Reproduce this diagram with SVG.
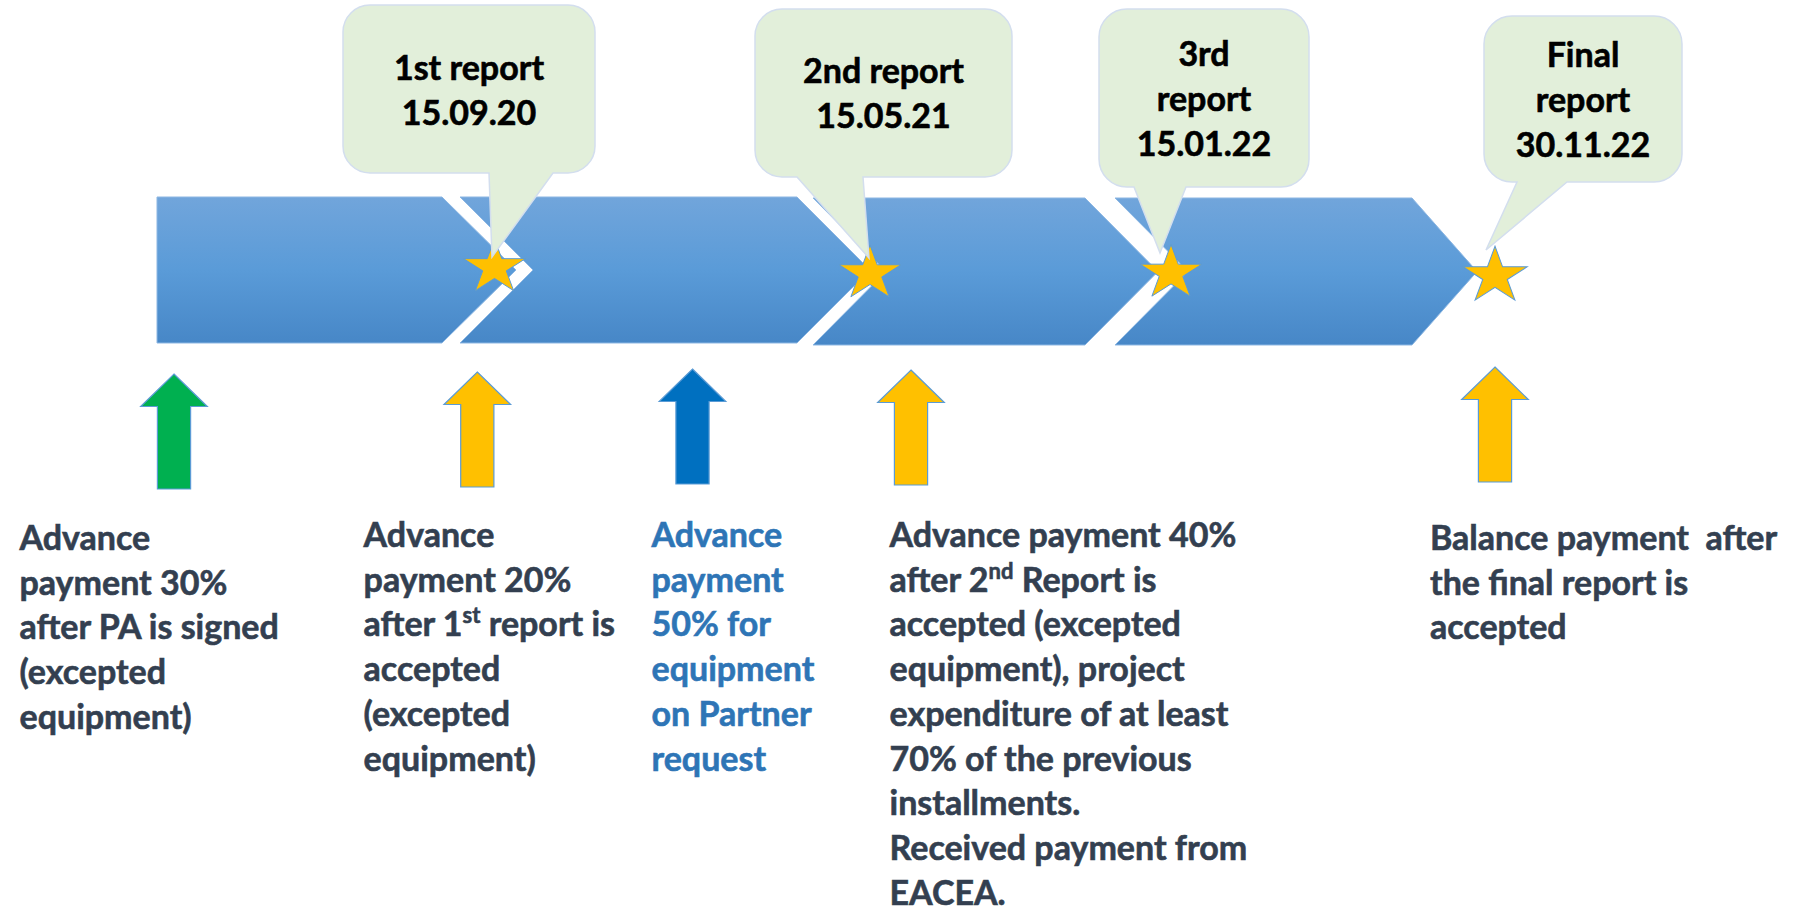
<svg xmlns="http://www.w3.org/2000/svg" width="1793" height="909" viewBox="0 0 1793 909">
<style>
.bar{fill:url(#barGrad);stroke:#8DB7E3;stroke-width:1}
.callout{fill:#E2EFDA;stroke:#D3DEEE;stroke-width:1.5}
.ctext{font-family:Lato,"Open Sans",sans-serif;font-weight:700;font-size:34px;fill:#000000;stroke:#000000;stroke-width:0.6;text-anchor:middle}
.btext{font-family:Lato,"Open Sans",sans-serif;font-weight:700;font-size:34px;fill:#333F50;stroke:#333F50;stroke-width:0.6}
.blue{fill:#2E75B6;stroke:#2E75B6}
.star{fill:#FFC000;stroke:#5B9BD5;stroke-width:1}
.arrow{stroke:#5B9BD5;stroke-width:1.2}
</style>
<defs>
<linearGradient id="barGrad" x1="0" y1="0" x2="0" y2="1">
<stop offset="0" stop-color="#71A5DB"/>
<stop offset="0.5" stop-color="#5A9BD8"/>
<stop offset="1" stop-color="#4787C7"/>
</linearGradient>
<polygon id="starShape" points="0,-28.6 7.3,-8.84 30.9,-8.84 11.8,3.37 19.1,23.14 0,10.93 -19.1,23.14 -11.8,3.37 -30.9,-8.84 -7.3,-8.84"/>
<path id="upArrow" d="M0,0 L33.3,32.5 L16.6,32.5 L16.6,115 L-16.6,115 L-16.6,32.5 L-33.3,32.5 Z"/>
</defs>
<rect width="1793" height="909" fill="#FFFFFF"/>

<g id="timeline">
<polygon id="seg1" class="bar" points="157,197 442,197 516,270 442,343 157,343"/>
<polygon id="seg2" class="bar" points="460,197 797,197 870,270 797,343 460,343 533,270"/>
<polygon id="seg3" class="bar" points="813,198 1085,198 1158,271.5 1085,345 813,345 886,271.5"/>
<polygon id="seg4" class="bar" points="1115,198 1412,198 1477,271.5 1412,345 1115,345 1188,271.5"/>
</g>

<g id="stars">
<use href="#starShape" class="star" transform="translate(494.5,267.5)"/>
<use href="#starShape" class="star" transform="translate(870,273.6)"/>
<use href="#starShape" class="star" transform="translate(1171,273)"/>
<use href="#starShape" class="star" transform="translate(1495,276) scale(1.04,1.04)"/>
</g>

<g id="callout1">
<path class="callout" d="M370,5 H568 A27,27 0 0 1 595,32 V146 A27,27 0 0 1 568,173 H553 L492,257 L489,173 H370 A27,27 0 0 1 343,146 V32 A27,27 0 0 1 370,5 Z"/>
<text class="ctext" x="469" y="80">1st report</text>
<text class="ctext" x="469" y="125">15.09.20</text>
</g>

<g id="callout2">
<path class="callout" d="M782,9 H985 A27,27 0 0 1 1012,36 V150 A27,27 0 0 1 985,177 H863 L869,258 L797,177 H782 A27,27 0 0 1 755,150 V36 A27,27 0 0 1 782,9 Z"/>
<text class="ctext" x="883.5" y="83">2nd report</text>
<text class="ctext" x="883.5" y="128">15.05.21</text>
</g>

<g id="callout3">
<path class="callout" d="M1127,9 H1281 A28,28 0 0 1 1309,37 V159 A28,28 0 0 1 1281,187 H1186 L1160,253 L1134,187 H1127 A28,28 0 0 1 1099,159 V37 A28,28 0 0 1 1127,9 Z"/>
<text class="ctext" x="1204" y="66">3rd</text>
<text class="ctext" x="1204" y="111">report</text>
<text class="ctext" x="1204" y="156">15.01.22</text>
</g>

<g id="callout4">
<path class="callout" d="M1512,16 H1654 A28,28 0 0 1 1682,44 V154 A28,28 0 0 1 1654,182 H1567 L1486,250 L1517,182 H1512 A28,28 0 0 1 1484,154 V44 A28,28 0 0 1 1512,16 Z"/>
<text class="ctext" x="1583" y="67">Final</text>
<text class="ctext" x="1583" y="112">report</text>
<text class="ctext" x="1583" y="157">30.11.22</text>
</g>

<g id="arrows">
<use id="arrow1" href="#upArrow" class="arrow" fill="#00B050" transform="translate(174,374)"/>
<use id="arrow2" href="#upArrow" class="arrow" fill="#FFC000" transform="translate(477.3,372)"/>
<use id="arrow3" href="#upArrow" class="arrow" fill="#0070C0" stroke="#0070C0" transform="translate(692.5,369)"/>
<use id="arrow4" href="#upArrow" class="arrow" fill="#FFC000" transform="translate(911,370)"/>
<use id="arrow5" href="#upArrow" class="arrow" fill="#FFC000" transform="translate(1495,367)"/>
</g>

<g id="text1">
<text class="btext" x="19.5" y="550">Advance</text>
<text class="btext" x="19.5" y="594.7">payment 30%</text>
<text class="btext" x="19.5" y="639.4">after PA is signed</text>
<text class="btext" x="19.5" y="684.1">(excepted</text>
<text class="btext" x="19.5" y="728.8">equipment)</text>
</g>

<g id="text2">
<text class="btext" x="363.6" y="547">Advance</text>
<text class="btext" x="363.6" y="591.7">payment 20%</text>
<text class="btext" x="363.6" y="636.4">after 1<tspan font-size="22" dy="-13">st</tspan><tspan dy="13"> report is</tspan></text>
<text class="btext" x="363.6" y="681.1">accepted</text>
<text class="btext" x="363.6" y="725.8">(excepted</text>
<text class="btext" x="363.6" y="770.5">equipment)</text>
</g>

<g id="text3">
<text class="btext blue" x="651.5" y="547">Advance</text>
<text class="btext blue" x="651.5" y="591.7">payment</text>
<text class="btext blue" x="651.5" y="636.4">50% for</text>
<text class="btext blue" x="651.5" y="681.1">equipment</text>
<text class="btext blue" x="651.5" y="725.8">on Partner</text>
<text class="btext blue" x="651.5" y="770.5">request</text>
</g>

<g id="text4">
<text class="btext" x="889.5" y="547">Advance payment 40%</text>
<text class="btext" x="889.5" y="591.7">after 2<tspan font-size="22" dy="-13">nd</tspan><tspan dy="13"> Report is</tspan></text>
<text class="btext" x="889.5" y="636.4">accepted (excepted</text>
<text class="btext" x="889.5" y="681.1">equipment), project</text>
<text class="btext" x="889.5" y="725.8">expenditure of at least</text>
<text class="btext" x="889.5" y="770.5">70% of the previous</text>
<text class="btext" x="889.5" y="815.2">installments.</text>
<text class="btext" x="889.5" y="859.9">Received payment from</text>
<text class="btext" x="889.5" y="904.6">EACEA.</text>
</g>

<g id="text5">
<text class="btext" x="1430" y="550" xml:space="preserve" style="white-space:pre">Balance payment  after</text>
<text class="btext" x="1430" y="594.7">the final report is</text>
<text class="btext" x="1430" y="639.4">accepted</text>
</g>

<g id="connectors"></g>
</svg>
